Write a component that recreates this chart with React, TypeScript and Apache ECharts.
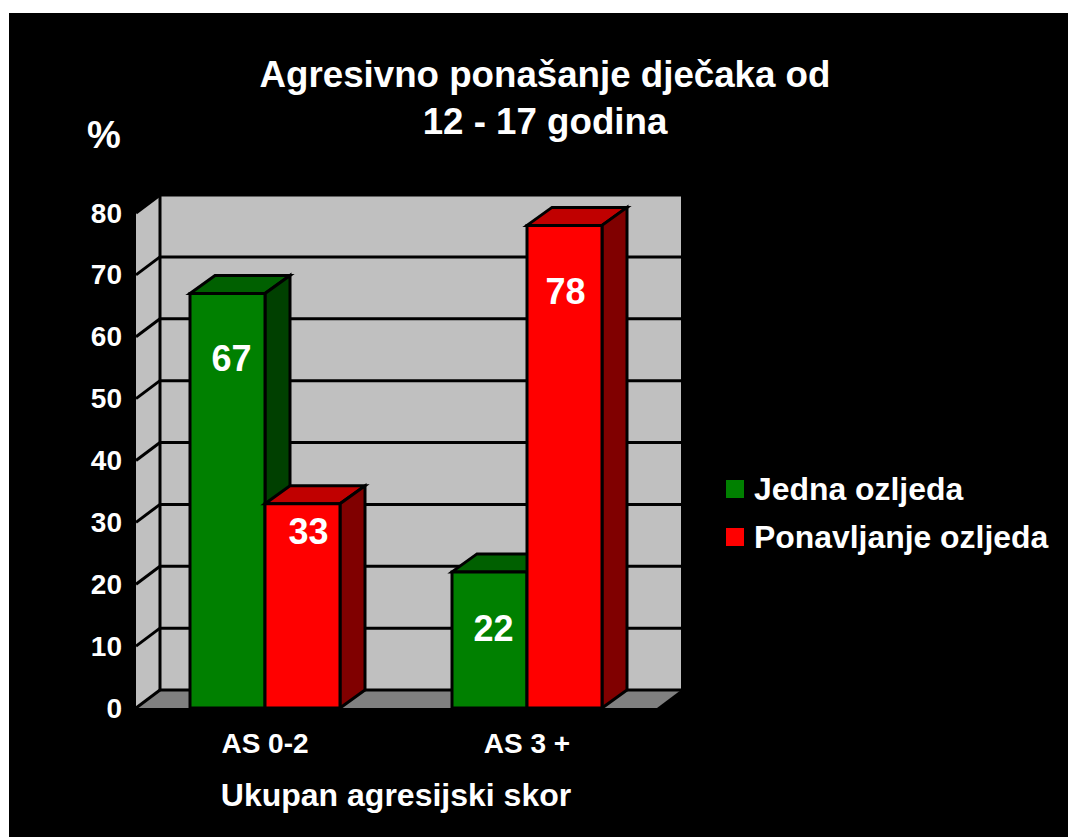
import React, { useEffect, useRef } from "react";
import * as echarts from "echarts";

const titleText = "Agresivno ponašanje dječaka od\n12 - 17 godina";
const categories = ["AS 0-2", "AS 3 +"];
const seriesNames = ["Jedna ozljeda", "Ponavljanje ozljeda"];
const jednaOzljeda = [67, 22];
const ponavljanjeOzljeda = [33, 78];
const yAxisName = "%";
const xAxisName = "Ukupan agresijski skor";

const FONT = "'Liberation Sans', Arial, sans-serif";
const DX = 25;
const DY = -18;
const WALL_DX = 24;
const BAR_W = 75;
const LINE = 3;
// distance from a bar's top to the centre of its value label, and its sideways shift
const labelDrop = [
  [65, 57],
  [28, 66],
];
const labelShift = [
  [4, 4],
  [6, 1],
];

const poly = (points: number[][], fill: string, stroke = "#000", lineWidth = LINE) => ({
  type: "polygon",
  shape: { points },
  style: { fill, stroke, lineWidth, lineJoin: "miter" },
});
const seg = (x1: number, y1: number, x2: number, y2: number) => ({
  type: "line",
  shape: { x1, y1, x2, y2 },
  style: { stroke: "#000", lineWidth: LINE },
});

function renderWalls(params: any, api: any) {
  const cs = params.coordSys;
  const x0 = cs.x + 2;
  const x1 = cs.x + cs.width - 1;
  const y0 = cs.y + cs.height;
  const y1 = cs.y;
  const d = WALL_DX;
  const children: any[] = [
    { type: "polygon", shape: { points: [[x0 + d, y1 + DY], [x1 + d, y1 + DY], [x1 + d, y0 + DY], [x0 + d, y0 + DY]] }, style: { fill: "#C0C0C0" } },
    { type: "polygon", shape: { points: [[x0, y1], [x0 + d, y1 + DY], [x0 + d, y0 + DY], [x0, y0]] }, style: { fill: "#C0C0C0" } },
    { type: "polygon", shape: { points: [[x0, y0], [x0 + d, y0 + DY], [x1 + d, y0 + DY], [x1, y0]] }, style: { fill: "#808080" } },
  ];
  for (let v = 0; v <= 80; v += 10) {
    const y = api.coord([0, v])[1];
    children.push(seg(x0, y, x0 + d, y + DY));
    children.push(seg(x0 + d, y + DY, x1 + d, y + DY));
  }
  children.push(seg(x0 + d, y1 + DY, x0 + d, y0 + DY));
  return { type: "group", silent: true, children };
}

const makeBars = (sIdx: number, front: string, top: string, side: string) => (params: any, api: any) => {
  const cat = api.value(0);
  const val = api.value(1);
  const c = api.coord([cat, val]);
  const base = api.coord([cat, 0]);
  const xL = sIdx === 0 ? c[0] - BAR_W : c[0];
  const xR = xL + BAR_W;
  const yT = c[1];
  const yB = base[1];
  return {
    type: "group",
    silent: true,
    children: [
      poly([[xL, yT], [xL + DX, yT + DY], [xR + DX, yT + DY], [xR, yT]], top),
      poly([[xR, yT], [xR + DX, yT + DY], [xR + DX, yB + DY], [xR, yB]], side),
      poly([[xL, yT], [xR, yT], [xR, yB], [xL, yB]], front),
      {
        type: "text",
        x: (xL + xR) / 2 + labelShift[sIdx][params.dataIndex],
        y: yT + labelDrop[sIdx][params.dataIndex],
        style: {
          text: String(val),
          fill: "#fff",
          font: `bold 36px ${FONT}`,
          align: "center",
          verticalAlign: "middle",
        },
      },
    ],
  };
};

export default function App() {
  const ref = useRef<HTMLDivElement>(null);
  useEffect(() => {
    const chart = echarts.init(ref.current!, null, { renderer: "svg" });
    const rows = (vals: number[]) => vals.map((v, i) => [i, v]);
    chart.setOption({
      animation: false,
      backgroundColor: "#fff",
      textStyle: { fontFamily: FONT },
      graphic: [
        { type: "rect", z: -10, silent: true, shape: { x: 9, y: 13, width: 1059, height: 824 }, style: { fill: "#000" } },
      ],
      title: {
        text: titleText,
        left: 540,
        top: 46,
        textAlign: "center",
        textStyle: { color: "#fff", fontFamily: FONT, fontWeight: "bold", fontSize: 36.7, lineHeight: 47 },
      },
      legend: {
        left: 721,
        top: 465,
        orient: "vertical",
        itemWidth: 18,
        itemHeight: 18,
        itemGap: 10,
        icon: "rect",
        selectedMode: false,
        data: seriesNames,
        textStyle: { color: "#fff", fontFamily: FONT, fontWeight: "bold", fontSize: 31.9, height: 38, lineHeight: 38, padding: [0, 0, 0, 5] },
      },
      grid: { left: 134, top: 213, width: 524, height: 495 },
      xAxis: {
        type: "category",
        data: categories,
        name: xAxisName,
        nameLocation: "center",
        nameGap: 71,
        nameTextStyle: { color: "#fff", fontFamily: FONT, fontWeight: "bold", fontSize: 32 },
        axisLine: { show: false },
        axisTick: { show: false },
        axisLabel: { color: "#fff", fontFamily: FONT, fontWeight: "bold", fontSize: 28, margin: 21 },
      },
      yAxis: {
        type: "value",
        min: 0,
        max: 80,
        interval: 10,
        name: yAxisName,
        nameLocation: "end",
        nameGap: 78,
        nameTextStyle: { color: "#fff", fontFamily: FONT, fontWeight: "bold", fontSize: 38, align: "center", verticalAlign: "middle", padding: [0, 60, 0, 0] },
        axisLine: { show: false },
        axisTick: { show: false },
        splitLine: { show: false },
        axisLabel: { color: "#fff", fontFamily: FONT, fontWeight: "bold", fontSize: 28, margin: 12 },
      },
      series: [
        {
          type: "custom",
          name: "walls",
          z: 1,
          renderItem: renderWalls,
          data: [[0, 0]],
          encode: { x: 0, y: 1 },
          silent: true,
        },
        {
          type: "custom",
          name: seriesNames[0],
          z: 2,
          itemStyle: { color: "#008000" },
          renderItem: makeBars(0, "#008000", "#006000", "#004000"),
          data: rows(jednaOzljeda),
          encode: { x: 0, y: 1 },
        },
        {
          type: "custom",
          name: seriesNames[1],
          z: 3,
          itemStyle: { color: "#FF0000" },
          renderItem: makeBars(1, "#FF0000", "#C00000", "#800000"),
          data: rows(ponavljanjeOzljeda),
          encode: { x: 0, y: 1 },
        },
      ],
    });
    return () => chart.dispose();
  }, []);
  return <div ref={ref} style={{ position: "fixed", left: 0, top: 0, width: 1068, height: 837 }} />;
}
